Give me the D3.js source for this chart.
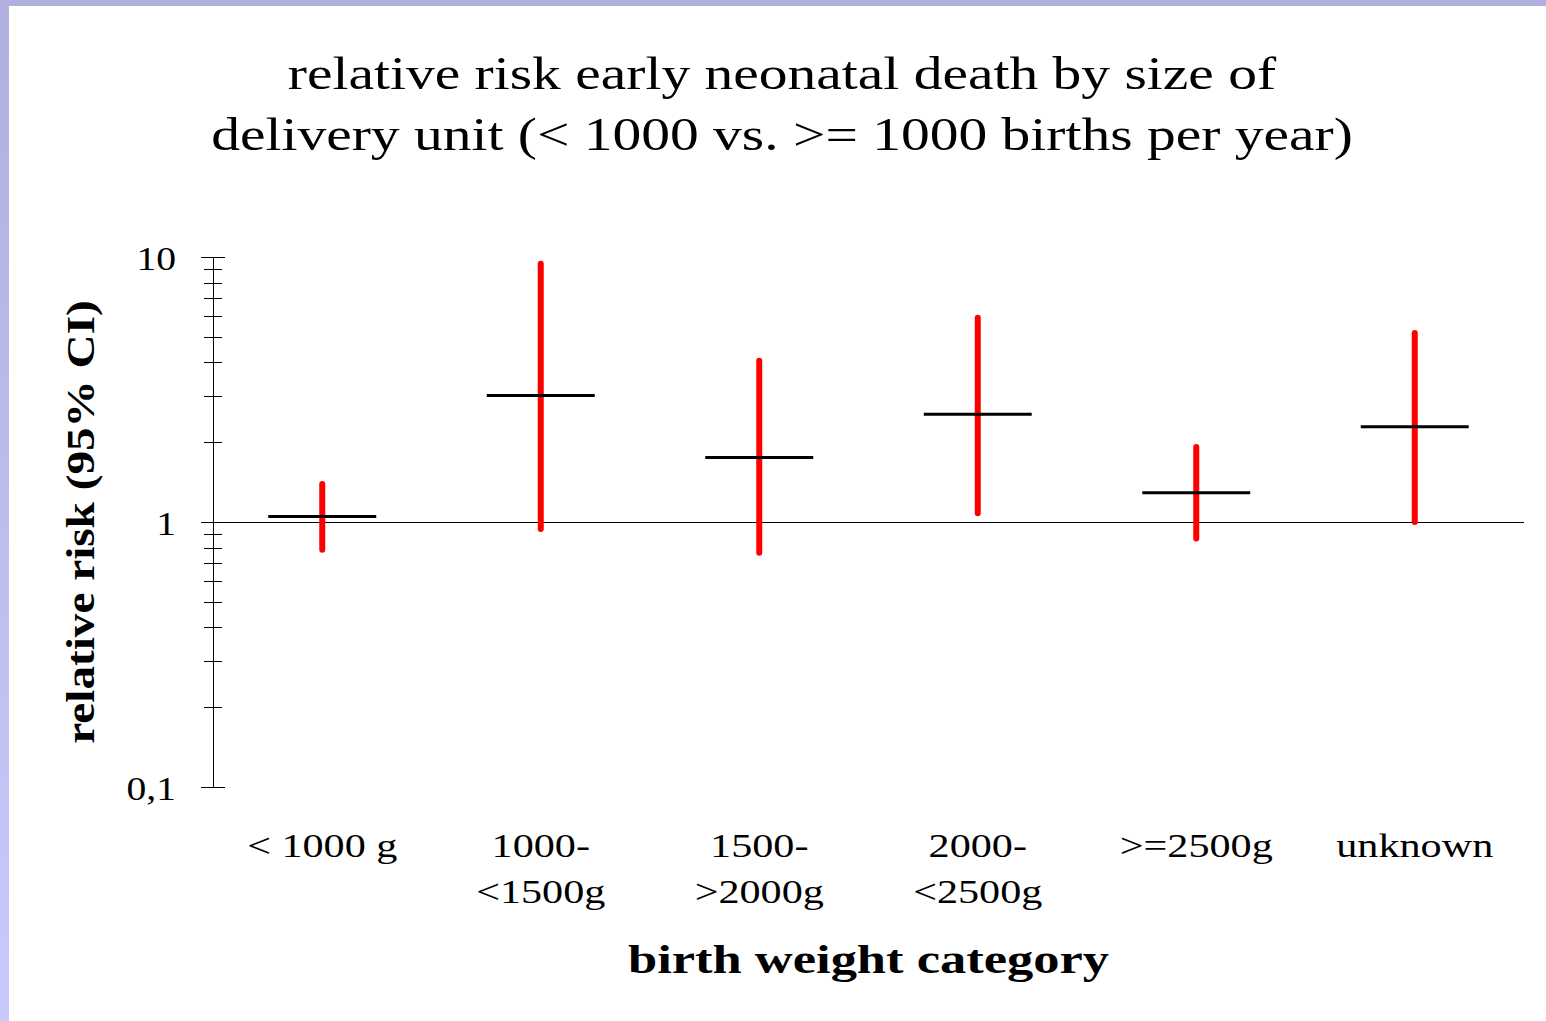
<!DOCTYPE html>
<html>
<head>
<meta charset="utf-8">
<title>relative risk early neonatal death</title>
<script src="https://cdn.jsdelivr.net/npm/d3@7"></script>
<style>
  body { margin:0; background:#fff; overflow:hidden; }
  text { font-family: 'Liberation Serif', 'Times New Roman', serif; fill:#000; }
  .title { font-size:46px; }
  .y-axis text { font-size:33px; font-family: 'Liberation Serif', serif; }
  .x-label { font-size:34px; }
  .x-title { font-size:41px; font-weight:700; }
  .y-title { font-size:40px; font-weight:700; }
  .y-axis path, .y-axis line { stroke:#000; stroke-width:1; shape-rendering:crispEdges; }
  .x-axis path { display:none; }
  .ref-line { stroke:#000; stroke-width:1; shape-rendering:crispEdges; }
  .ci-line { stroke:#ff0000; stroke-width:6; stroke-linecap:round; }
  .rr-line { stroke:#000; stroke-width:3; }
</style>
</head>
<body>
<script>
// categories, each with its label lines
var categories = ["< 1000 g", "1000-<1500g", "1500->2000g", "2000-<2500g", ">=2500g", "unknown"];
var categoryLines = [["< 1000 g"], ["1000-", "<1500g"], ["1500-", ">2000g"], ["2000-", "<2500g"], [">=2500g"], ["unknown"]];

// relative risk and 95% CI
var relRisk = [1.05, 3.0, 1.75, 2.55, 1.29, 2.29];
var ciLow   = [0.786, 0.94, 0.766, 1.08, 0.867, 1.0];
var ciHigh  = [1.39, 9.44, 4.06, 5.9, 1.92, 5.17];

var majorTicks = [0.1, 1, 10];
var minorTicks = [0.2, 0.3, 0.4, 0.5, 0.6, 0.7, 0.8, 0.9, 2, 3, 4, 5, 6, 7, 8, 9];

var titleLines = ["relative risk early neonatal death by size of",
                  "delivery unit (< 1000 vs. >= 1000 births per year)"];
var xTitle = "birth weight category";
var yTitle = "relative risk (95% CI)";

var W = 1546, H = 1021;
var margin = {top: 257, right: 22, bottom: 234, left: 213};
var width = W - margin.left - margin.right,
    height = H - margin.top - margin.bottom;

var root = d3.select("body").append("svg")
    .attr("width", W)
    .attr("height", H);

// slide frame: lavender band on top and left
var grad = root.append("defs").append("linearGradient")
    .attr("id", "frame-grad")
    .attr("x1", 0).attr("y1", 0).attr("x2", 0).attr("y2", 1);
grad.append("stop").attr("offset", "0%").attr("stop-color", "#b0b0e0");
grad.append("stop").attr("offset", "100%").attr("stop-color", "#c9c9fb");

root.append("rect").attr("x", 0).attr("y", 0).attr("width", 9).attr("height", H)
    .style("fill", "url(#frame-grad)");
root.append("rect").attr("x", 0).attr("y", 0).attr("width", W).attr("height", 6)
    .style("fill", "#b0b0e0");

// stretch text horizontally like the original rendering
function stretch(sel, f) {
  sel.each(function() {
    var len = this.getComputedTextLength();
    d3.select(this).attr("textLength", len * f).attr("lengthAdjust", "spacingAndGlyphs");
  });
}

root.append("g").selectAll("text")
  .data(titleLines)
  .enter().append("text")
    .attr("class", "title")
    .attr("x", 782)
    .attr("y", (d, i) => 89 + i * 61)
    .attr("text-anchor", "middle")
    .text(d => d)
    .call(stretch, 1.25);

var svg = root.append("g")
    .attr("transform", "translate(" + margin.left + "," + margin.top + ")");

var x = d3.scaleBand()
    .domain(categories)
    .range([0, width]);

var y = d3.scaleLog()
    .domain([0.1, 10])
    .range([height, 0]);

var fmt = d => String(d).replace(".", ",");

// y axis: major ticks both sides, minor ticks both sides
var yAxisElem = svg.append("g")
    .attr("class", "y-axis")
    .call(d3.axisLeft(y).tickValues(majorTicks).tickFormat(fmt).tickSize(12).tickSizeOuter(0).tickPadding(25));
yAxisElem.selectAll("text").attr("dy", "0.38em").call(stretch, 1.2);

svg.append("g")
    .attr("class", "y-axis")
    .call(d3.axisRight(y).tickValues(majorTicks).tickFormat("").tickSize(12).tickSizeOuter(0));
svg.append("g")
    .attr("class", "y-axis")
    .call(d3.axisLeft(y).tickValues(minorTicks).tickFormat("").tickSize(9).tickSizeOuter(0));
svg.append("g")
    .attr("class", "y-axis")
    .call(d3.axisRight(y).tickValues(minorTicks).tickFormat("").tickSize(9).tickSizeOuter(0));

// reference line at RR = 1
svg.append("line")
    .attr("class", "ref-line")
    .attr("x1", -12)
    .attr("x2", width)
    .attr("y1", y(1))
    .attr("y2", y(1));

// x axis labels (no axis line)
var xAxisElem = svg.append("g")
    .attr("class", "x-axis")
    .attr("transform", "translate(0," + height + ")")
    .call(d3.axisBottom(x).tickSize(0).tickFormat(""));

xAxisElem.selectAll(".tick").each(function(d) {
  var lines = categoryLines[categories.indexOf(d)];
  d3.select(this).selectAll("text.x-label")
    .data(lines)
    .enter().append("text")
      .attr("class", "x-label")
      .attr("text-anchor", "middle")
      .attr("y", (l, i) => 70 + i * 46)
      .text(l => l)
      .call(stretch, 1.24);
});

var rows = categories.map((c, i) => ({cat: c, rr: relRisk[i], lo: ciLow[i], hi: ciHigh[i]}));
var cx = d => x(d.cat) + x.bandwidth() / 2;

svg.append("g").selectAll("line")
  .data(rows)
  .enter().append("line")
    .attr("class", "ci-line")
    .attr("x1", cx).attr("x2", cx)
    .attr("y1", d => y(d.lo))
    .attr("y2", d => y(d.hi));

svg.append("g").selectAll("line")
  .data(rows)
  .enter().append("line")
    .attr("class", "rr-line")
    .attr("x1", d => cx(d) - x.bandwidth() * 0.247)
    .attr("x2", d => cx(d) + x.bandwidth() * 0.247)
    .attr("y1", d => y(d.rr))
    .attr("y2", d => y(d.rr));

// axis titles
svg.append("text")
    .attr("class", "x-title")
    .attr("x", width / 2)
    .attr("y", 716)
    .attr("text-anchor", "middle")
    .text(xTitle)
    .call(stretch, 1.28);

svg.append("text")
    .attr("class", "y-title")
    .attr("text-anchor", "middle")
    .attr("transform", "translate(" + [94 - margin.left, height / 2] + ") rotate(-90)")
    .text(yTitle)
    .call(stretch, 1.18);
</script>
</body>
</html>
